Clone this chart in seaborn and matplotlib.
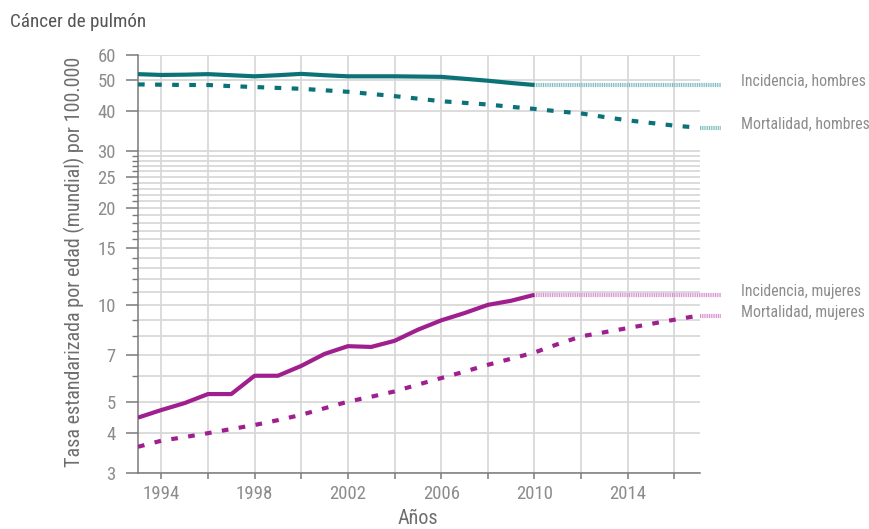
import matplotlib
matplotlib.use("Agg")
import matplotlib.pyplot as plt
import matplotlib.ticker as mticker
from matplotlib import font_manager
from matplotlib.transforms import blended_transform_factory, offset_copy
import pandas as pd
import seaborn as sns

# Tasas estandarizadas (mundial) por 100.000, cáncer de pulmón
years_inc = list(range(1993, 2011))
years_mort = list(range(1993, 2018))

inc_hombres = [52.2, 51.9, 52.0, 52.2, 51.8, 51.4, 51.8, 52.3, 51.8, 51.4,
               51.4, 51.4, 51.3, 51.2, 50.5, 49.8, 49.0, 48.3]
mort_hombres = [48.5, 48.4, 48.3, 48.3, 47.9, 47.6, 47.3, 47.0, 46.5, 46.0,
                45.3, 44.6, 43.8, 43.0, 42.5, 42.0, 41.3, 40.7, 40.0, 39.4,
                38.4, 37.5, 36.8, 36.1, 35.6]
inc_mujeres = [4.46, 4.71, 4.95, 5.28, 5.28, 6.02, 6.02, 6.46, 7.04, 7.44,
               7.40, 7.73, 8.37, 8.95, 9.43, 10.0, 10.3, 10.75]
mort_mujeres = [3.62, 3.78, 3.88, 3.99, 4.11, 4.23, 4.38, 4.55, 4.77, 5.00,
                5.18, 5.38, 5.65, 5.92, 6.20, 6.51, 6.80, 7.11, 7.55, 7.98,
                8.22, 8.47, 8.73, 8.99, 9.25]

series_labels = ["Incidencia, hombres", "Mortalidad, hombres",
                 "Incidencia, mujeres", "Mortalidad, mujeres"]

y_major = [3, 4, 5, 7, 10, 15, 20, 25, 30, 40, 50, 60]
y_grid = list(range(3, 31)) + [40, 50, 60]
x_label_years = [1994, 1998, 2002, 2006, 2010, 2014]
x_grid_years = list(range(1994, 2017, 2))

TEAL = "#0b7378"
TEAL_LIGHT = "#7fbcc0"
MAGENTA = "#a01f8f"
MAGENTA_LIGHT = "#d990cf"
GRID = "#d6d6d6"
AXIS = "#7a7a7a"
TICK_TXT = "#8c8c8c"
LABEL_TXT = "#6e6e6e"

sns.set_style("white")

# Prefer a condensed sans face when one is installed
condensed = None
for f in font_manager.fontManager.ttflist:
    st = str(f.stretch).lower()
    if ("condensed" in st or "narrow" in f.name.lower() or "condensed" in f.name.lower()) \
            and f.style == "normal" and f.weight in (300, 400, "normal", "light"):
        if condensed is None or "roboto" in f.name.lower():
            condensed = f
if condensed is not None:
    plt.rcParams["font.family"] = [condensed.name, "DejaVu Sans"]
    plt.rcParams["font.stretch"] = condensed.stretch
    scale = 1.0
else:
    plt.rcParams["font.family"] = ["Liberation Sans", "DejaVu Sans"]
    scale = 0.8

fig = plt.figure(figsize=(8.70, 5.29), dpi=100)
ax = fig.add_axes([138 / 870, 1 - 473 / 529, (700 - 138) / 870, (473 - 54.7) / 529])

df_inc_h = pd.DataFrame({"anio": years_inc, "tasa": inc_hombres})
df_mort_h = pd.DataFrame({"anio": years_mort, "tasa": mort_hombres})
df_inc_m = pd.DataFrame({"anio": years_inc, "tasa": inc_mujeres})
df_mort_m = pd.DataFrame({"anio": years_mort, "tasa": mort_mujeres})

LW = 3.0
dash = (1.6, 2.5)
stripes = (0.25, 0.18)

sns.lineplot(data=df_inc_h, x="anio", y="tasa", ax=ax, color=TEAL, lw=LW,
             solid_capstyle="butt", zorder=4)
sns.lineplot(data=df_mort_h, x="anio", y="tasa", ax=ax, color=TEAL, lw=LW,
             zorder=4).lines[-1].set_dashes(dash)
sns.lineplot(data=df_inc_m, x="anio", y="tasa", ax=ax, color=MAGENTA, lw=LW,
             solid_capstyle="butt", zorder=4)
sns.lineplot(data=df_mort_m, x="anio", y="tasa", ax=ax, color=MAGENTA, lw=LW,
             zorder=4).lines[-1].set_dashes(dash)

# Continuations of the incidence series and legend stubs to the right
x_end = 2018.0
stub_start = 2017.1
for yrs, vals, col in [(years_inc, inc_hombres, TEAL_LIGHT),
                       (years_inc, inc_mujeres, MAGENTA_LIGHT)]:
    ax.plot([yrs[-1], x_end], [vals[-1], vals[-1]], color=col, lw=LW,
            dashes=stripes, clip_on=False, zorder=3)
for vals, col in [(mort_hombres, TEAL_LIGHT), (mort_mujeres, MAGENTA_LIGHT)]:
    ax.plot([stub_start, x_end], [vals[-1], vals[-1]], color=col, lw=LW,
            dashes=stripes, clip_on=False, zorder=3)

# Series labels
trans = blended_transform_factory(ax.transAxes, ax.transData)
trans = offset_copy(trans, fig=fig, x=0, y=2.5, units="points")
for lab, vals in zip(series_labels, [inc_hombres, mort_hombres, inc_mujeres, mort_mujeres]):
    ax.text((741 - 138) / (700 - 138), vals[-1], lab, transform=trans,
            ha="left", va="center", fontsize=11.3 * scale, color=TICK_TXT)

ax.set_yscale("log")
ax.set_ylim(3, 60)
ax.set_xlim(1993, 2017.1)

ax.yaxis.set_major_locator(mticker.FixedLocator(y_major))
ax.yaxis.set_major_formatter(mticker.FixedFormatter([str(v) for v in y_major]))
ax.yaxis.set_minor_locator(mticker.FixedLocator([v for v in y_grid if v not in y_major]))
ax.yaxis.set_minor_formatter(mticker.NullFormatter())

ax.xaxis.set_major_locator(mticker.FixedLocator(x_label_years))
ax.xaxis.set_minor_locator(mticker.FixedLocator([v for v in x_grid_years if v not in x_label_years]))
ax.xaxis.set_minor_formatter(mticker.NullFormatter())

for v in y_grid:
    ax.axhline(v, color=GRID, lw=1.2, zorder=1)
for v in x_grid_years:
    ax.axvline(v, color=GRID, lw=1.2, zorder=1)

for s in ["top", "right"]:
    ax.spines[s].set_visible(False)
for s in ["left", "bottom"]:
    ax.spines[s].set_color(AXIS)
    ax.spines[s].set_linewidth(1.1)

ax.tick_params(axis="y", which="major", length=9, width=1.1, color=AXIS,
               labelsize=13.5 * scale, labelcolor=TICK_TXT, pad=7, left=True)
ax.tick_params(axis="y", which="minor", length=4.5, width=1.0, color=AXIS, left=True)
ax.tick_params(axis="x", which="both", length=4.5, width=1.1, color=AXIS,
               labelsize=13.5 * scale, labelcolor=TICK_TXT, pad=4, bottom=True)

ax.set_xlabel("")
ax.set_ylabel("")

fig.text(74 / 870, 1 - 262 / 529, "Tasa estandarizada por edad (mundial) por 100.000",
         rotation=90, ha="center", va="center", fontsize=14.5 * scale, color=LABEL_TXT)
fig.text(418 / 870, 1 - 519 / 529, "Años", ha="center", va="center",
         fontsize=14.5 * scale, color=LABEL_TXT)
fig.text(10 / 870, 1 - 22 / 529, "Cáncer de pulmón", ha="left", va="center",
         fontsize=13.8 * scale, color="#555555")

fig.savefig("out.png", dpi=100)
